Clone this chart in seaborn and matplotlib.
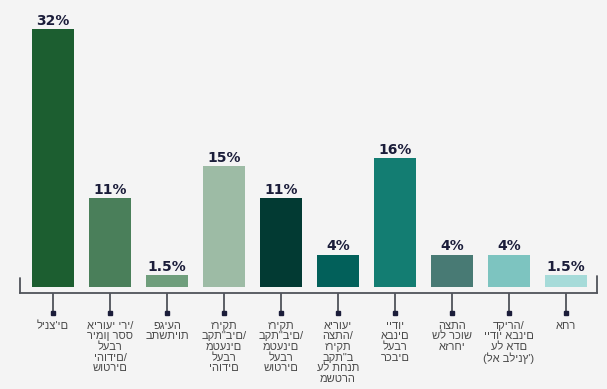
import numpy as np
import pandas as pd
import matplotlib
matplotlib.use('Agg')
import matplotlib.pyplot as plt
import matplotlib.transforms as mtransforms
import seaborn as sns

sns.set_style('white')
plt.rcParams['font.family'] = ['Liberation Sans', 'DejaVu Sans']

# Categories (Hebrew text, one entry per line)
categories = [
    ["לינצ'ים"],
    ["אירועי ירי/", "רימון רסס", "לעבר", "יהודים/", "שוטרים"],
    ["פגיעה", "בתשתיות"],
    ["זריקת", "בקת\"בים/", "מטענים", "לעבר", "יהודים"],
    ["זריקת", "בקת\"בים/", "מטענים", "לעבר", "שוטרים"],
    ["אירועי", "הצתה/", "זריקת", "בקת\"ב", "על תחנת", "משטרה"],
    ["יידוי", "אבנים", "לעבר", "רכבים"],
    ["הצתה", "של רכוש", "אזרחי"],
    ["דקירה/", "יידוי אבנים", "על אדם", "(לא בלינץ')"],
    ["אחר"],
]
values = [32, 11, 1.5, 15, 11, 4, 16, 4, 4, 1.5]
value_labels = ['32%', '11%', '1.5%', '15%', '11%', '4%', '16%', '4%', '4%', '1.5%']
colors = ['#1c5e30', '#4a7f5a', '#6f9e7c', '#9dbba5', '#023a33',
          '#02605a', '#137d72', '#487a74', '#7dc4c0', '#a6dbd9']

keys = ['c%d' % i for i in range(len(values))]
df = pd.DataFrame({'cat': keys, 'value': values})

bg = '#f4f4f4'
fig = plt.figure(figsize=(6.07, 3.89), dpi=100, facecolor=bg)
ax = fig.add_axes([20 / 607, 1 - 287 / 389, 577 / 607, 287 / 389])
ax.set_facecolor(bg)

sns.barplot(data=df, x='cat', y='value', hue='cat', palette=colors,
            order=keys, width=0.75, legend=False, ax=ax, saturation=1,
            linewidth=0)

ax.set_xlim(-0.579, 9.544)
ax.set_ylim(0, 287 / 8.06)

for p, lab in zip(ax.patches, value_labels):
    ax.annotate(lab, (p.get_x() + p.get_width() / 2, p.get_height()),
                xytext=(0, 1), textcoords='offset points', ha='center', va='bottom',
                fontsize=10, fontweight='bold', color='#1b1d3a',
                family=['DejaVu Sans'])

# Bracket-style baseline
line_col = '#50535a'
for s in ['top', 'left', 'right']:
    ax.spines[s].set_visible(False)
ax.spines['bottom'].set_position(('outward', 4.3))
ax.spines['bottom'].set_color(line_col)
ax.spines['bottom'].set_linewidth(1.3)
off = -6 / 287
ax.plot([0, 0], [off, 9 / 287], color=line_col, lw=1.3, transform=ax.transAxes, clip_on=False)
ax.plot([1, 1], [off, 11 / 287], color=line_col, lw=1.3, transform=ax.transAxes, clip_on=False)

ax.set_yticks([])
ax.set_xticks(range(len(values)))
ax.set_xticklabels(['\n'.join(c) for c in categories],
                   fontsize=8, color='#4a4a4a', linespacing=1.08, va='top')
ax.tick_params(axis='x', bottom=True, direction='out', length=14.4, width=1.3,
               color=line_col, pad=5.5)
blend = mtransforms.blended_transform_factory(ax.transData, ax.transAxes)
ax.plot(range(len(values)), [-26 / 287] * len(values), 's', ms=3,
        color='#1b1d3a', transform=blend, clip_on=False)
ax.set_xlabel('')
ax.set_ylabel('')

fig.savefig('out.png', dpi=100, facecolor=bg)
